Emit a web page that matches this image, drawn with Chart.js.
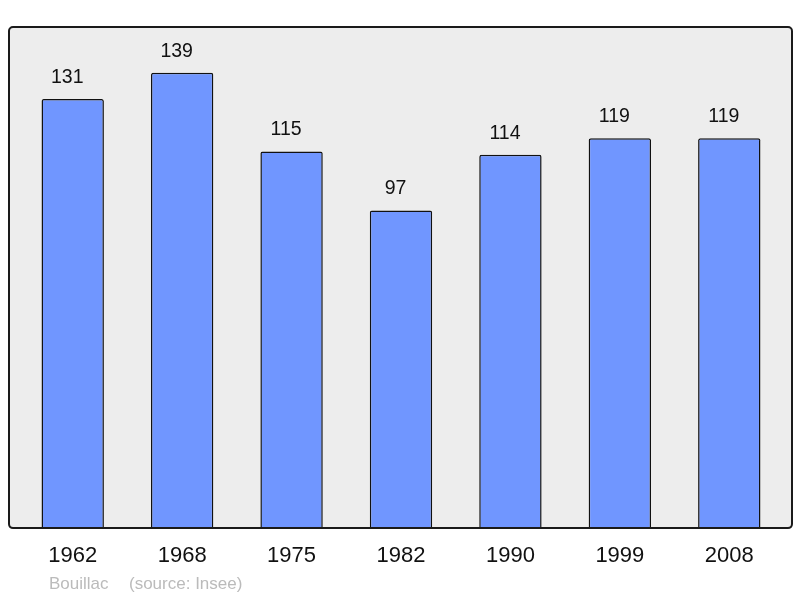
<!DOCTYPE html>
<html>
<head>
<meta charset="utf-8">
<script src="https://cdn.jsdelivr.net/npm/chart.js@4/dist/chart.umd.min.js"></script>
<style>
  body { margin: 0; background: #ffffff; }
  canvas { display: block; }
</style>
</head>
<body>
<canvas id="popChart" width="800" height="598"></canvas>
<script>
// Data
const years = ['1962', '1968', '1975', '1982', '1990', '1999', '2008'];
const population = [131, 139, 115, 97, 114, 119, 119];
const townName = 'Bouillac';
const sourceText = '(source: Insee)';

// Grey framed panel behind the bars
const panelPlugin = {
    id: 'panel',
    beforeDraw(chart) {
        const ctx = chart.ctx;
        const area = chart.chartArea;
        const x = area.left - 9, y = area.top, w = area.right - area.left + 17, h = area.bottom - area.top;
        ctx.save();
        ctx.beginPath();
        ctx.roundRect(x, y, w, h, 4);
        ctx.fillStyle = '#ededed';
        ctx.fill();
        ctx.restore();
    },
    afterDatasetsDraw(chart) {
        const ctx = chart.ctx;
        const area = chart.chartArea;
        const x = area.left - 9, y = area.top, w = area.right - area.left + 17, h = area.bottom - area.top;
        ctx.save();
        ctx.beginPath();
        ctx.roundRect(x, y, w, h, 4);
        ctx.lineWidth = 2;
        ctx.strokeStyle = '#1a1a1a';
        ctx.stroke();

        // value labels above each bar (sit a little left of centre in the original)
        const meta = chart.getDatasetMeta(0);
        ctx.fillStyle = '#111111';
        ctx.font = '19.5px "Liberation Sans", Arial, sans-serif';
        ctx.textAlign = 'center';
        ctx.textBaseline = 'middle';
        meta.data.forEach((bar, i) => {
            ctx.fillText(String(population[i]), bar.x - 5.5, bar.y - 21.5);
        });

        // footer
        ctx.fillStyle = '#bbbbbb';
        ctx.font = '17px "Liberation Sans", Arial, sans-serif';
        ctx.textAlign = 'left';
        ctx.textBaseline = 'middle';
        ctx.fillText(townName, 49, 584);
        ctx.fillText(sourceText, 129, 584);
        ctx.restore();
    }
};

const ctx = document.getElementById('popChart').getContext('2d');
const popChart = new Chart(ctx, {
    type: 'bar',
    data: {
        labels: years,
        datasets: [{
            data: population,
            backgroundColor: '#7096ff',
            borderColor: '#111111',
            borderWidth: 1.5,
            borderRadius: 2,
            borderSkipped: 'bottom',
            barPercentage: 0.57,
            categoryPercentage: 1
        }]
    },
    options: {
        responsive: false,
        animation: false,
        layout: {
            padding: { left: 18, right: 16, top: 27, bottom: 21.5 }
        },
        plugins: {
            legend: { display: false },
            tooltip: { enabled: false }
        },
        scales: {
            x: {
                grid: { display: false },
                border: { display: false },
                ticks: {
                    color: '#111111',
                    padding: 7,
                    font: { family: '"Liberation Sans", Arial, sans-serif', size: 22 }
                }
            },
            y: {
                display: false,
                min: 0,
                max: 153
            }
        }
    },
    plugins: [panelPlugin]
});
</script>
</body>
</html>
